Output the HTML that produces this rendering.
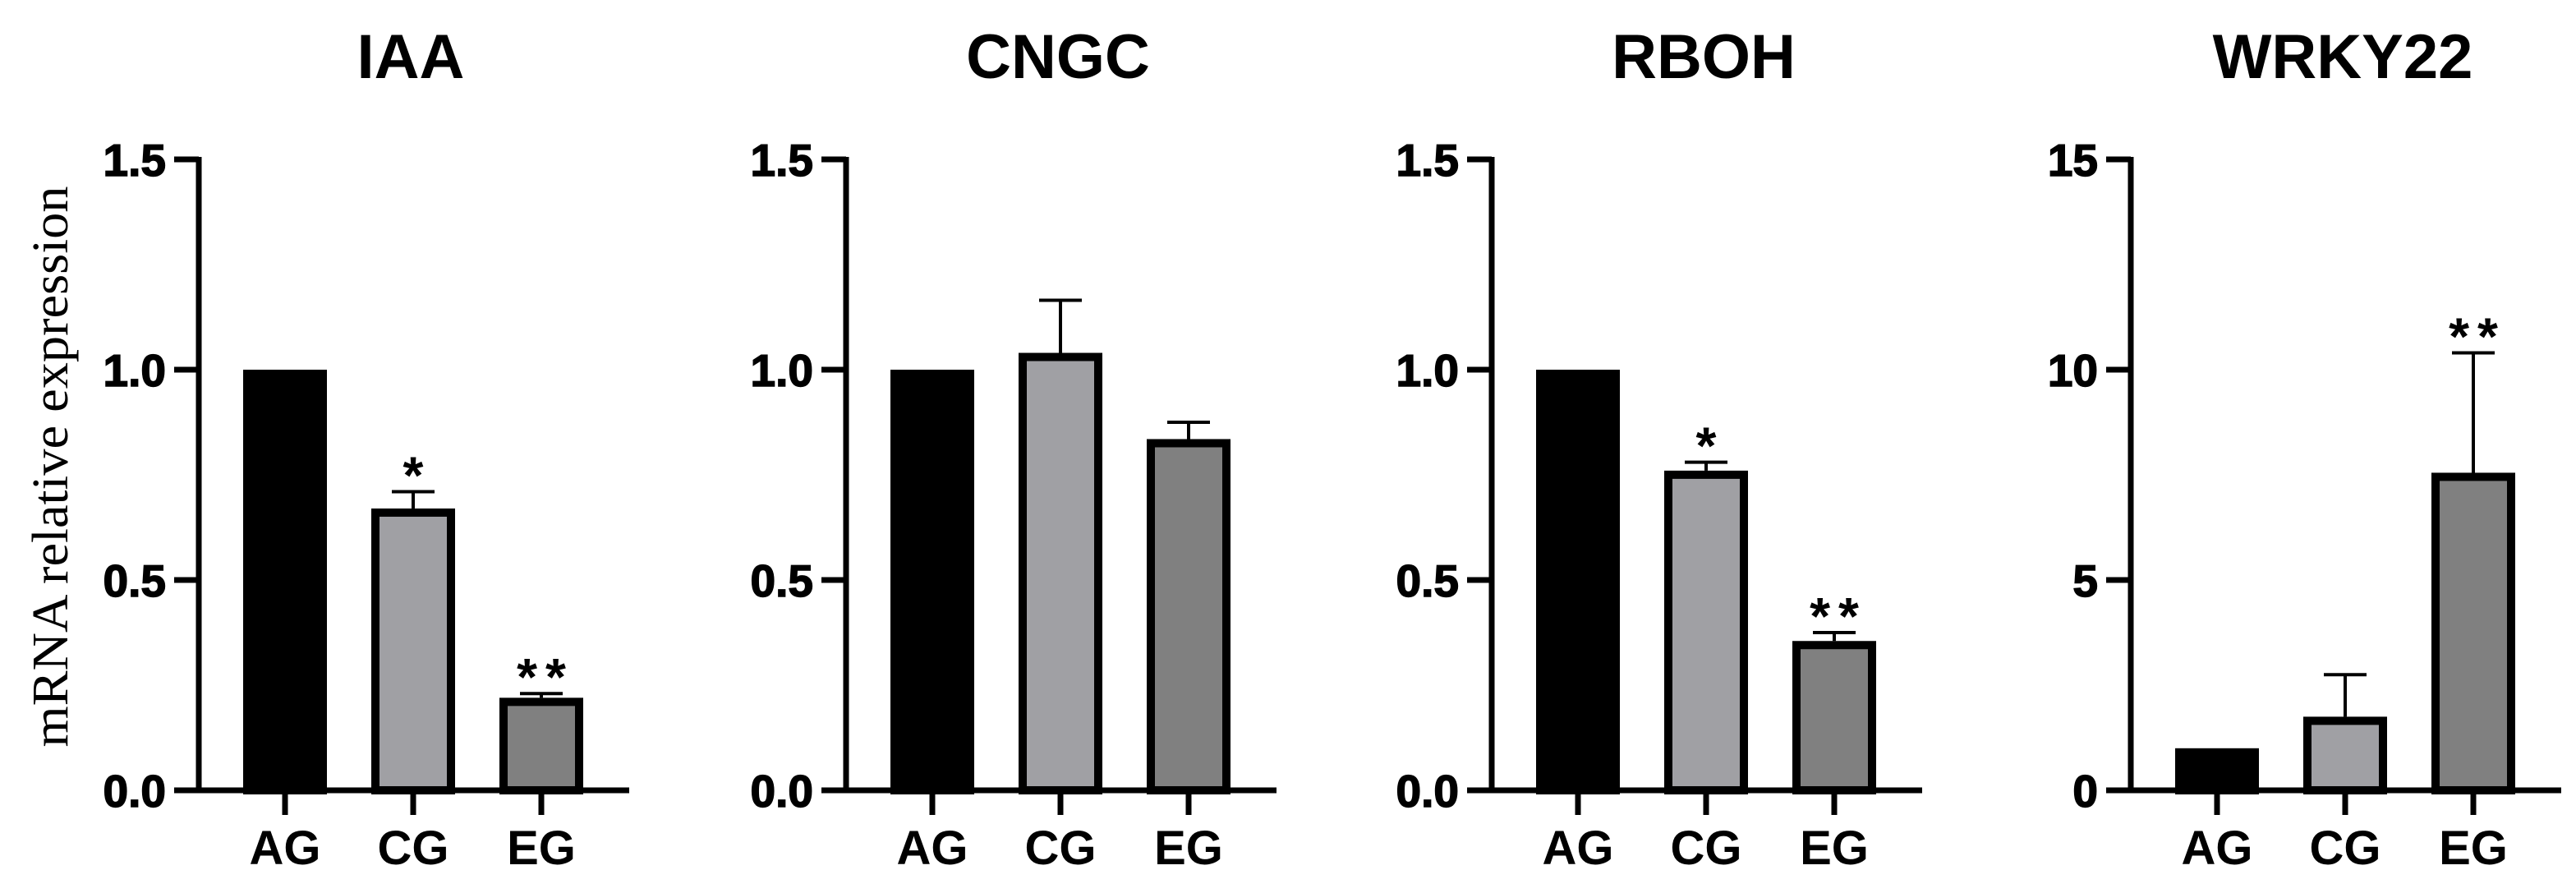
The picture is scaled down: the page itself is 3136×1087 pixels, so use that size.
<!DOCTYPE html>
<html><head><meta charset="utf-8"><style>html,body{margin:0;padding:0;background:#fff}svg{display:block}</style></head>
<body>
<svg id="chart" width="3136" height="1087" viewBox="0 0 3136 1087" xmlns="http://www.w3.org/2000/svg">
<text transform="translate(82,568) rotate(-90)" text-anchor="middle" font-family="Liberation Serif, serif" font-size="62" textLength="683" lengthAdjust="spacingAndGlyphs">mRNA relative expression</text>
</svg>
<script>
const categories = ["AG","CG","EG"];
const panelTitles = ["IAA","CNGC","RBOH","WRKY22"];
const iaaValues = [1.0, 0.67, 0.22];
const iaaErrTop = [1.0, 0.71, 0.23];
const cngcValues = [1.0, 1.04, 0.835];
const cngcErrTop = [1.0, 1.165, 0.875];
const rbohValues = [1.0, 0.76, 0.355];
const rbohErrTop = [1.0, 0.78, 0.375];
const wrkyValues = [1.0, 1.75, 7.55];
const wrkyErrTop = [1.0, 2.75, 10.4];
const sigMarks = [["","*","**"],["","",""],["","*","**"],["","","**"]];
const yMax = [1.5,1.5,1.5,15];
const tickLabels = [["0.0","0.5","1.0","1.5"],["0.0","0.5","1.0","1.5"],["0.0","0.5","1.0","1.5"],["0","5","10","15"]];
const tickValues = [[0,0.5,1,1.5],[0,0.5,1,1.5],[0,0.5,1,1.5],[0,5,10,15]];

const svg = document.getElementById('chart');
const NS = 'http://www.w3.org/2000/svg';
const axisXs = [242,1030,1816,2594];
const Y0 = 962, YTOP = 194;
const fills = ["#000000","#a0a0a4","#808080"];
const allVals = [iaaValues,cngcValues,rbohValues,wrkyValues];
const allErr = [iaaErrTop,cngcErrTop,rbohErrTop,wrkyErrTop];
function mk(tag, attrs, parent){const e=document.createElementNS(NS,tag);for(const k in attrs)e.setAttribute(k,attrs[k]);(parent||svg).appendChild(e);return e;}

for(let p=0;p<4;p++){
  const ax = axisXs[p];
  const yScale = v => Y0 - (v / yMax[p]) * (Y0 - YTOP);
  const xCenter = i => ax + 105 + i*156;
  const g = mk('g',{});
  
  
  const t = mk('text',{x:ax+258,y:95,'text-anchor':'middle','font-family':'Liberation Sans, sans-serif','font-weight':'bold','font-size':'76'},g);
  t.textContent = panelTitles[p];
  
  
  for(let i=0;i<3;i++){
    const v = allVals[p][i], e = allErr[p][i];
    const cx = xCenter(i);
    if(e > v){
      const el = mk('line',{x1:cx,x2:cx,y1:yScale(v),y2:yScale(e),stroke:'#000','stroke-width':4},g);
      
      
      const cap = mk('line',{x1:cx-26,x2:cx+26,y1:yScale(e),y2:yScale(e),stroke:'#000','stroke-width':4},g);
      
      
    }
    const top = yScale(v);
    const r = mk('rect',{x:cx-46,y:top+5,width:92,height:Math.max(0,Y0-top-5),fill:fills[i],stroke:'#000','stroke-width':10},g);
    
    
    if(sigMarks[p][i]){
      const s = mk('text',{x:cx+5,y:yScale(Math.max(e,v))+2,'text-anchor':'middle','font-family':'Liberation Sans, sans-serif','font-weight':'bold','font-size':'64','letter-spacing':'10'},g);
      s.textContent = sigMarks[p][i];
      
      
    }
    const tk = mk('line',{x1:cx,x2:cx,y1:Y0,y2:Y0+30,stroke:'#000','stroke-width':7},g);
    
    
    const cl = mk('text',{x:cx,y:1052,'text-anchor':'middle','font-family':'Liberation Sans, sans-serif','font-weight':'bold','font-size':'58'},g);
    cl.textContent = categories[i];
    
    
  }
  const ya = mk('line',{x1:ax,x2:ax,y1:YTOP-3,y2:Y0+3,stroke:'#000','stroke-width':7},g);
  
  
  const xa = mk('line',{x1:ax-30,x2:ax+524,y1:Y0,y2:Y0,stroke:'#000','stroke-width':7},g);
  
  
  for(let k=0;k<tickValues[p].length;k++){
    const y = yScale(tickValues[p][k]);
    const tl = mk('line',{x1:ax-30,x2:ax,y1:y,y2:y,stroke:'#000','stroke-width':7},g);
    
    
    const lb = mk('text',{x:ax-40,y:y+20,'text-anchor':'end','font-family':'Liberation Sans, sans-serif','font-weight':'bold','font-size':'55','stroke':'#000','stroke-width':'1.5'},g);
    lb.textContent = tickLabels[p][k];
    
    
  }
}
</script>
</body></html>
